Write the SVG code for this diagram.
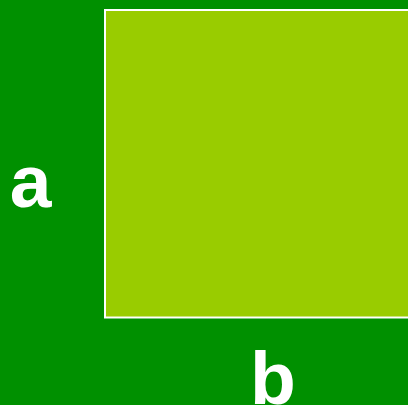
<svg xmlns="http://www.w3.org/2000/svg" width="408" height="405" viewBox="0 0 408 405">
<style>
.lbl{font-family:"Liberation Sans",Arial,sans-serif;font-weight:bold;font-size:75px;fill:#fff;text-anchor:middle}
</style>
<rect x="0" y="0" width="408" height="405" fill="#009000"/>
<g id="square">
<rect x="105" y="10" width="310" height="307.5" fill="#99cc00" stroke="#fff" stroke-width="2"/>
</g>
<g id="label-a"><text class="lbl" x="30.5" y="207">a</text></g>
<g id="label-b"><text class="lbl" x="273" y="404">b</text></g>
</svg>
